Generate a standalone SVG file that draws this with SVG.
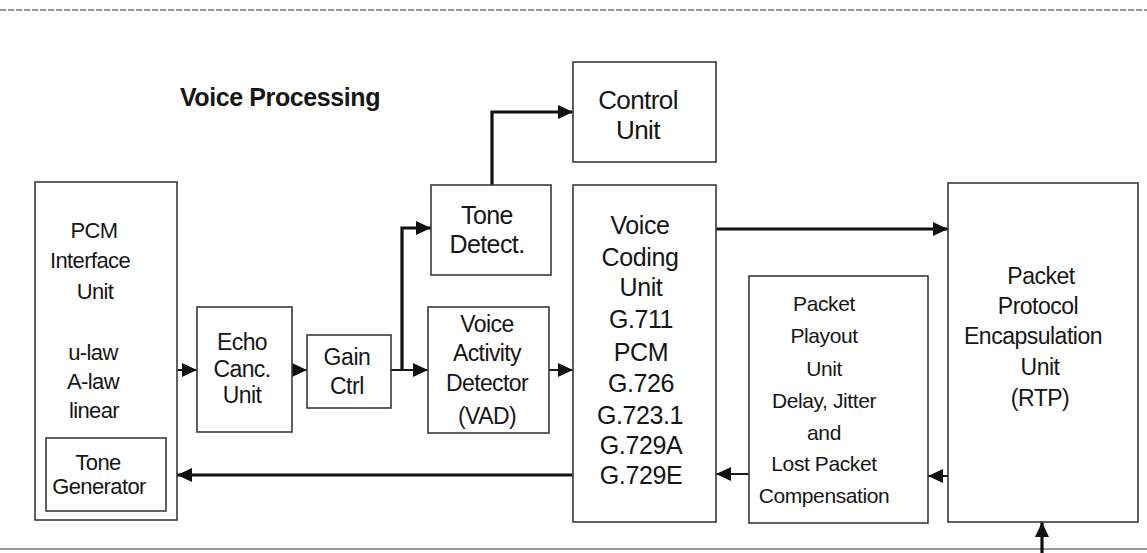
<svg xmlns="http://www.w3.org/2000/svg" width="1147" height="553" viewBox="0 0 1147 553">
<defs>
<style>
.box{fill:#fff;stroke:#3a3a3a;stroke-width:1.6}
.t{font-family:"Liberation Sans",Arial,sans-serif;fill:#161616;text-anchor:middle;dominant-baseline:central}
.c{fill:none;stroke:#1a1a1a;stroke-width:2}
.ck{fill:none;stroke:#111;stroke-width:3.2}
.rule{stroke:#9a9a9a;stroke-width:2}
</style>
<marker id="ah" markerUnits="userSpaceOnUse" markerWidth="16" markerHeight="14" refX="15" refY="7" orient="auto">
<path d="M0,0 L15,7 L0,14 z" fill="#111"/>
</marker>
</defs>
<rect width="1147" height="553" fill="#fff"/>
<line class="rule" x1="0" y1="10" x2="1147" y2="10" stroke-dasharray="6 2"/>
<line class="rule" x1="0" y1="549" x2="1147" y2="549"/>
<text class="t" x="280" y="97" font-size="25" font-weight="bold" letter-spacing="-0.4">Voice Processing</text>

<g id="connectors">
<path class="ck" d="M492,185 V112 H573" marker-end="url(#ah)"/>
<path class="c" d="M177,370 H197" marker-end="url(#ah)"/>
<path class="c" d="M292,370 H307" marker-end="url(#ah)"/>
<path class="c" d="M391,370 H428" marker-end="url(#ah)"/>
<path class="ck" d="M402,370 V228 H431" marker-end="url(#ah)"/>
<path class="c" d="M549,370 H573" marker-end="url(#ah)"/>
<path class="ck" d="M716,229 H948" marker-end="url(#ah)"/>
<path class="c" d="M948,476 H928" marker-end="url(#ah)"/>
<path class="c" d="M749,474 H716" marker-end="url(#ah)"/>
<path class="ck" d="M573,475 H177" marker-end="url(#ah)"/>
<path class="ck" d="M1042,553 V522" marker-end="url(#ah)"/>
</g>

<g id="pcm">
<rect class="box" x="35" y="182" width="142" height="338"/>
<g class="t" font-size="22" letter-spacing="-0.6">
<text class="t" x="94" y="230">PCM</text>
<text class="t" x="90" y="260">Interface</text>
<text class="t" x="95" y="291">Unit</text>
<text class="t" x="93" y="352">u-law</text>
<text class="t" x="93" y="381">A-law</text>
<text class="t" x="94" y="410">linear</text>
</g>
</g>
<g id="tonegen">
<rect class="box" x="46" y="438" width="120" height="73"/>
<g font-size="22" letter-spacing="-0.6">
<text class="t" x="98" y="462">Tone</text>
<text class="t" x="99" y="486">Generator</text>
</g>
</g>
<g id="echo">
<rect class="box" x="197" y="307" width="95" height="125"/>
<g font-size="23" letter-spacing="-0.6">
<text class="t" x="242" y="342">Echo</text>
<text class="t" x="242" y="369">Canc.</text>
<text class="t" x="242" y="395">Unit</text>
</g>
</g>
<g id="gain">
<rect class="box" x="307" y="335" width="84" height="73"/>
<g font-size="23" letter-spacing="-0.4">
<text class="t" x="347" y="357">Gain</text>
<text class="t" x="347" y="386">Ctrl</text>
</g>
</g>
<g id="tonedetect">
<rect class="box" x="431" y="185" width="120" height="90"/>
<g font-size="25" letter-spacing="-0.6">
<text class="t" x="487" y="215">Tone</text>
<text class="t" x="487" y="244">Detect.</text>
</g>
</g>
<g id="vad">
<rect class="box" x="428" y="307" width="121" height="126"/>
<g font-size="23" letter-spacing="-0.6">
<text class="t" x="487" y="324">Voice</text>
<text class="t" x="487" y="353">Activity</text>
<text class="t" x="487" y="383">Detector</text>
<text class="t" x="487" y="416">(VAD)</text>
</g>
</g>
<g id="control">
<rect class="box" x="573" y="62" width="143" height="100"/>
<g font-size="26" letter-spacing="-0.6">
<text class="t" x="638" y="100">Control</text>
<text class="t" x="638" y="130">Unit</text>
</g>
</g>
<g id="coding">
<rect class="box" x="573" y="185" width="143" height="337"/>
<g font-size="25" letter-spacing="-0.4">
<text class="t" x="640" y="225">Voice</text>
<text class="t" x="640" y="257">Coding</text>
<text class="t" x="641" y="287">Unit</text>
<text class="t" x="641" y="319">G.711</text>
<text class="t" x="641" y="352">PCM</text>
<text class="t" x="641" y="383">G.726</text>
<text class="t" x="640" y="415">G.723.1</text>
<text class="t" x="641" y="445">G.729A</text>
<text class="t" x="641" y="475">G.729E</text>
</g>
</g>
<g id="playout">
<rect class="box" x="749" y="276" width="179" height="247"/>
<g font-size="21" letter-spacing="-0.4">
<text class="t" x="824" y="303">Packet</text>
<text class="t" x="824" y="335">Playout</text>
<text class="t" x="824" y="368">Unit</text>
<text class="t" x="824" y="400">Delay, Jitter</text>
<text class="t" x="824" y="432">and</text>
<text class="t" x="824" y="463">Lost Packet</text>
<text class="t" x="824" y="495">Compensation</text>
</g>
</g>
<g id="packet">
<rect class="box" x="948" y="183" width="190" height="339"/>
<g font-size="23" letter-spacing="-0.5">
<text class="t" x="1041" y="276">Packet</text>
<text class="t" x="1038" y="306">Protocol</text>
<text class="t" x="1033" y="336">Encapsulation</text>
<text class="t" x="1040" y="367">Unit</text>
<text class="t" x="1040" y="398">(RTP)</text>
</g>
</g>
</svg>
